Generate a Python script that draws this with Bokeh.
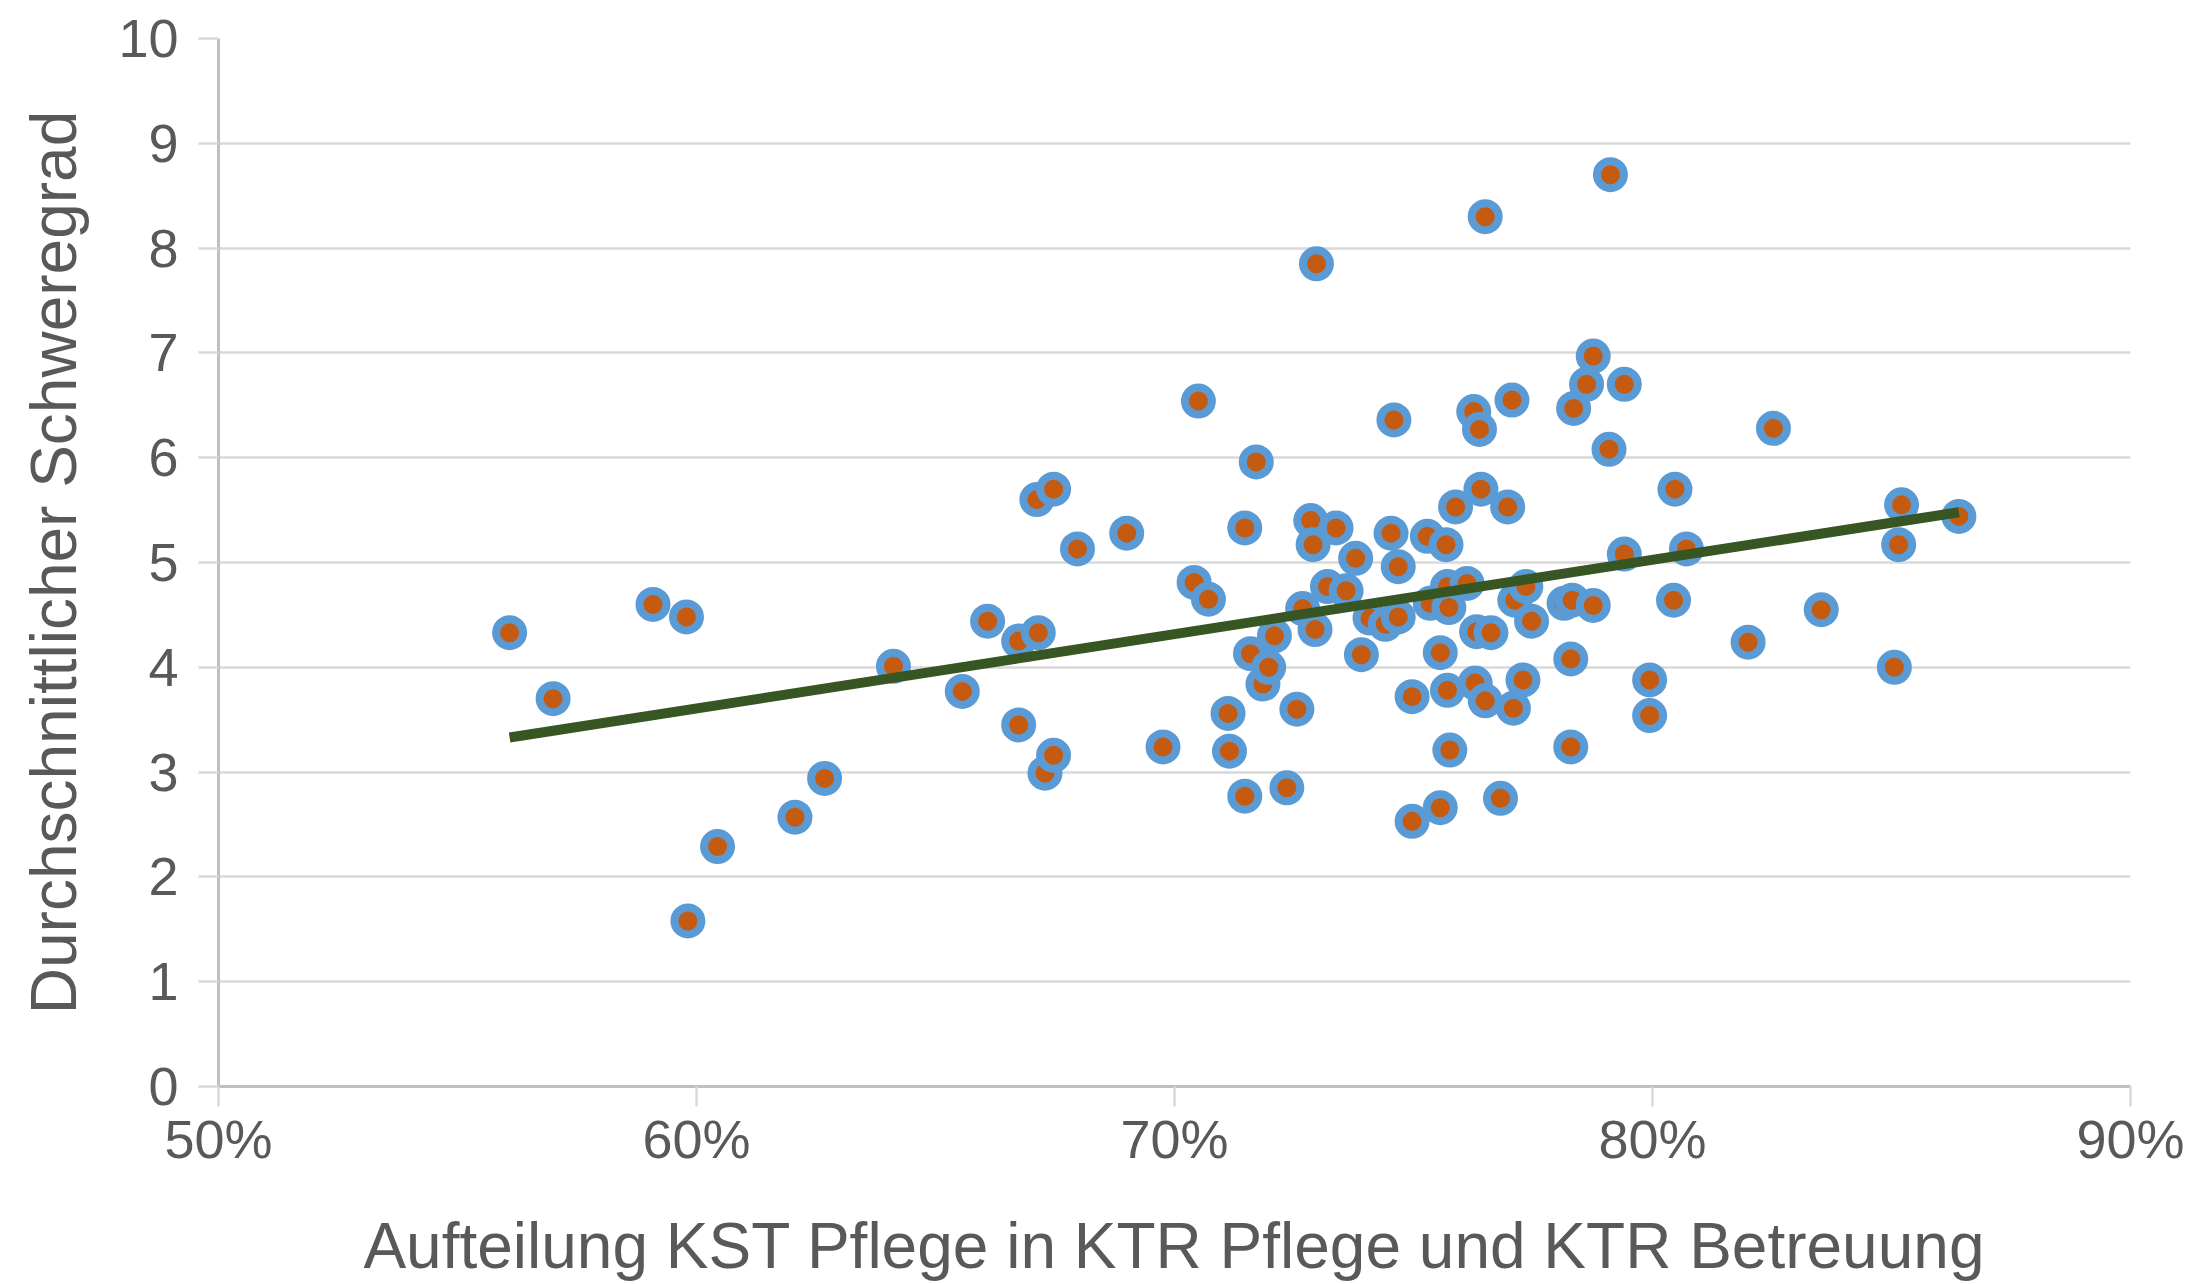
from bokeh.plotting import figure
from bokeh.embed import file_html
from bokeh.resources import INLINE
from bokeh.models import NumeralTickFormatter, FixedTicker, Range1d

# Aufteilung KST Pflege (fraction) and Durchschnittlicher Schweregrad
x_share = [
    0.5609, 0.5700, 0.5909, 0.5979, 0.5982, 0.6044, 0.6206, 0.6268, 0.6412, 0.6556,
    0.6609, 0.6674, 0.6674, 0.6715, 0.6712, 0.6747, 0.6729, 0.6747, 0.6797, 0.6900,
    0.6976, 0.7050, 0.7041, 0.7071, 0.7112, 0.7115, 0.7147, 0.7147, 0.7171, 0.7159,
    0.7185, 0.7197, 0.7209, 0.7235, 0.7256, 0.7268, 0.7285, 0.7290, 0.7294, 0.7297,
    0.7320, 0.7338, 0.7359, 0.7379, 0.7391, 0.7409, 0.7441, 0.7453, 0.7459, 0.7468,
    0.7468, 0.7497, 0.7497, 0.7529, 0.7535, 0.7556, 0.7556, 0.7568, 0.7571, 0.7574,
    0.7571, 0.7576, 0.7588, 0.7612, 0.7626, 0.7629, 0.7638, 0.7641, 0.7632, 0.7650,
    0.7650, 0.7662, 0.7682, 0.7697, 0.7706, 0.7712, 0.7709, 0.7735, 0.7729, 0.7747,
    0.7815, 0.7829, 0.7829, 0.7835, 0.7832, 0.7862, 0.7876, 0.7876, 0.7909, 0.7912,
    0.7941, 0.7941, 0.7994, 0.7994, 0.8047, 0.8044, 0.8071, 0.8200, 0.8253, 0.8353,
    0.8506, 0.8515, 0.8521, 0.8641,
]
y_grade = [
    4.33, 3.70, 4.60, 4.48, 1.58, 2.29, 2.57, 2.94, 4.01, 3.77,
    4.44, 3.45, 4.25, 4.33, 5.60, 5.70, 2.99, 3.16, 5.13, 5.28,
    3.24, 6.54, 4.81, 4.65, 3.56, 3.20, 2.77, 5.33, 5.96, 4.13,
    3.84, 4.00, 4.30, 2.85, 3.60, 4.56, 5.40, 5.17, 4.36, 7.85,
    4.77, 5.33, 4.73, 5.04, 4.12, 4.47, 4.41, 5.28, 6.36, 4.96,
    4.48, 2.53, 3.72, 5.25, 4.61, 2.66, 4.14, 5.17, 4.77, 4.57,
    3.78, 3.21, 5.53, 4.80, 6.44, 3.85, 6.27, 5.70, 4.34, 8.30,
    3.68, 4.33, 2.75, 5.53, 6.55, 4.64, 3.61, 4.77, 3.88, 4.44,
    4.61, 4.08, 3.24, 6.47, 4.64, 6.70, 6.97, 4.59, 6.08, 8.70,
    6.70, 5.08, 3.88, 3.54, 5.70, 4.64, 5.13, 4.24, 6.28, 4.55,
    4.00, 5.17, 5.55, 5.44,
]

# Linear trend line (endpoints)
trend_x = [0.5609, 0.8641]
trend_y = [3.33, 5.48]

x_ticks = [0.5, 0.6, 0.7, 0.8, 0.9]
y_ticks = [0, 1, 2, 3, 4, 5, 6, 7, 8, 9, 10]

FONT = "Liberation Sans"
TXT = "#595959"

p = figure(
    width=2205, height=1284,
    output_backend="svg", toolbar_location=None,
    x_range=Range1d(0.5, 0.9), y_range=Range1d(0, 10),
    min_border_left=218, min_border_right=75,
    min_border_top=38, min_border_bottom=194,
)
p.outline_line_color = None
p.background_fill_color = "white"
p.border_fill_color = "white"

# grid
p.xgrid.grid_line_color = None
p.ygrid.grid_line_color = "#d9d9d9"
p.ygrid.grid_line_width = 2.5

# x axis
p.xaxis.ticker = FixedTicker(ticks=x_ticks)
p.xaxis.formatter = NumeralTickFormatter(format="0%")
p.xaxis.axis_line_color = "#bfbfbf"
p.xaxis.axis_line_width = 3
p.xaxis.major_tick_line_color = "#d9d9d9"
p.xaxis.major_tick_line_width = 2.5
p.xaxis.major_tick_out = 20
p.xaxis.major_tick_in = 0
p.xaxis.minor_tick_line_color = None
p.xaxis.major_label_text_font = FONT
p.xaxis.major_label_text_font_size = "54px"
p.xaxis.major_label_text_color = TXT
p.xaxis.major_label_standoff = 2
p.xaxis.axis_label = "Aufteilung KST Pflege in KTR Pflege und KTR Betreuung"
p.xaxis.axis_label_text_font = FONT
p.xaxis.axis_label_text_font_size = "64px"
p.xaxis.axis_label_text_font_style = "normal"
p.xaxis.axis_label_text_color = TXT
p.xaxis.axis_label_standoff = 38

# y axis
p.yaxis.ticker = FixedTicker(ticks=y_ticks)
p.yaxis.axis_line_color = "#bfbfbf"
p.yaxis.axis_line_width = 3
p.yaxis.major_tick_line_color = "#d9d9d9"
p.yaxis.major_tick_line_width = 2.5
p.yaxis.major_tick_out = 20
p.yaxis.major_tick_in = 0
p.yaxis.minor_tick_line_color = None
p.yaxis.major_label_text_font = FONT
p.yaxis.major_label_text_font_size = "54px"
p.yaxis.major_label_text_color = TXT
p.yaxis.major_label_standoff = 20
p.yaxis.axis_label = "Durchschnittlicher Schweregrad"
p.yaxis.axis_label_text_font = FONT
p.yaxis.axis_label_text_font_size = "64px"
p.yaxis.axis_label_text_font_style = "normal"
p.yaxis.axis_label_text_color = TXT
p.yaxis.axis_label_standoff = 25

# points
p.scatter(x_share, y_grade, marker="circle", size=27,
          fill_color="#C55A11", line_color="#5B9BD5", line_width=8)

# trend line
p.line(trend_x, trend_y, line_color="#375623", line_width=10)

open("out.html", "w").write(file_html(p, INLINE))
